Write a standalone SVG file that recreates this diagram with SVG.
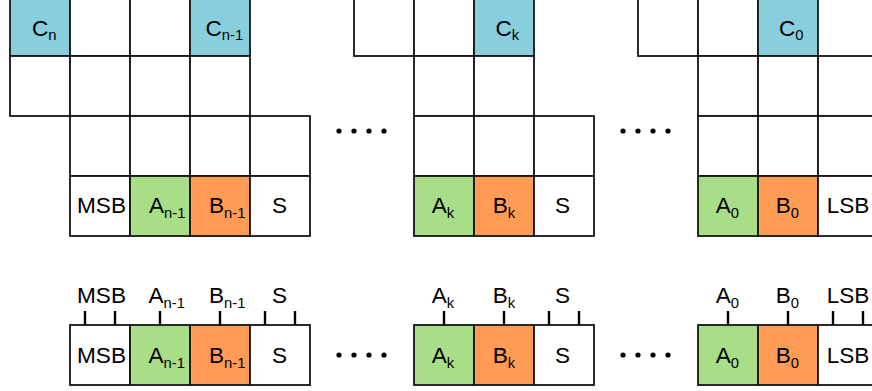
<svg xmlns="http://www.w3.org/2000/svg" width="872" height="391" viewBox="0 0 872 391">
<style>
  rect.c { fill: #ffffff; stroke: #151515; stroke-width: 1.8; }
  rect.blue { fill: #89CEDC; }
  rect.green { fill: #A9DE88; }
  rect.orange { fill: #FF9B53; }
  text { font-family: "Liberation Sans", Arial, sans-serif; font-size: 22.6px; fill: #000; }
  tspan.sub { font-size: 14.8px; }
  .tick { stroke: #000; stroke-width: 2.4; }
  .dot { fill: #000; }
</style>
<rect width="872" height="391" fill="#ffffff"/>

<!-- Left group -->
<g id="left-grid">
  <g id="cell-Cn"><rect class="c blue" x="10" y="-4" width="60" height="60"/><text x="32" y="36">C<tspan class="sub" dy="4">n</tspan></text></g>
  <rect class="c" x="70" y="-4" width="60" height="60"/>
  <rect class="c" x="130" y="-4" width="60" height="60"/>
  <g id="cell-Cn-1"><rect class="c blue" x="190" y="-4" width="60" height="60"/><text x="205.5" y="36">C<tspan class="sub" dy="4">n-1</tspan></text></g>
  <rect class="c" x="10" y="56" width="60" height="60"/>
  <rect class="c" x="70" y="56" width="60" height="60"/>
  <rect class="c" x="130" y="56" width="60" height="60"/>
  <rect class="c" x="190" y="56" width="60" height="60"/>
  <rect class="c" x="70" y="116" width="60" height="60"/>
  <rect class="c" x="130" y="116" width="60" height="60"/>
  <rect class="c" x="190" y="116" width="60" height="60"/>
  <rect class="c" x="250" y="116" width="60" height="60"/>
  <g id="cell-MSB"><rect class="c" x="70" y="176" width="60" height="60"/><text x="77" y="213">MSB</text></g>
  <g id="cell-An-1"><rect class="c green" x="130" y="176" width="60" height="60"/><text x="149" y="213">A<tspan class="sub" dy="4.5">n-1</tspan></text></g>
  <g id="cell-Bn-1"><rect class="c orange" x="190" y="176" width="60" height="60"/><text x="209" y="213">B<tspan class="sub" dy="4.5">n-1</tspan></text></g>
  <g id="cell-S1"><rect class="c" x="250" y="176" width="60" height="60"/><text x="272" y="213">S</text></g>
</g>

<!-- Middle group -->
<g id="mid-grid">
  <rect class="c" x="354" y="-4" width="60" height="60"/>
  <rect class="c" x="414" y="-4" width="60" height="60"/>
  <g id="cell-Ck"><rect class="c blue" x="474" y="-4" width="60" height="60"/><text x="495.5" y="36">C<tspan class="sub" dy="4">k</tspan></text></g>
  <rect class="c" x="414" y="56" width="60" height="60"/>
  <rect class="c" x="474" y="56" width="60" height="60"/>
  <rect class="c" x="414" y="116" width="60" height="60"/>
  <rect class="c" x="474" y="116" width="60" height="60"/>
  <rect class="c" x="534" y="116" width="60" height="60"/>
  <g id="cell-Ak"><rect class="c green" x="414" y="176" width="60" height="60"/><text x="431.7" y="213">A<tspan class="sub" dy="4.5">k</tspan></text></g>
  <g id="cell-Bk"><rect class="c orange" x="474" y="176" width="60" height="60"/><text x="492.7" y="213">B<tspan class="sub" dy="4.5">k</tspan></text></g>
  <g id="cell-S2"><rect class="c" x="534" y="176" width="60" height="60"/><text x="555" y="213">S</text></g>
</g>

<!-- Right group -->
<g id="right-grid">
  <rect class="c" x="638" y="-4" width="60" height="60"/>
  <rect class="c" x="698" y="-4" width="60" height="60"/>
  <g id="cell-C0"><rect class="c blue" x="758" y="-4" width="60" height="60"/><text x="779" y="36">C<tspan class="sub" dy="4">0</tspan></text></g>
  <rect class="c" x="698" y="56" width="60" height="60"/>
  <rect class="c" x="758" y="56" width="60" height="60"/>
  <rect class="c" x="818" y="56" width="60" height="60"/>
  <rect class="c" x="698" y="116" width="60" height="60"/>
  <rect class="c" x="758" y="116" width="60" height="60"/>
  <rect class="c" x="818" y="116" width="60" height="60"/>
  <g id="cell-A0"><rect class="c green" x="698" y="176" width="60" height="60"/><text x="715.7" y="213">A<tspan class="sub" dy="4.5">0</tspan></text></g>
  <g id="cell-B0"><rect class="c orange" x="758" y="176" width="60" height="60"/><text x="775.7" y="213">B<tspan class="sub" dy="4.5">0</tspan></text></g>
  <g id="cell-LSB"><rect class="c" x="818" y="176" width="60" height="60"/><text x="826.7" y="213">LSB</text></g>
</g>

<!-- Bottom register -->
<g id="bottom-register">
  <g id="reg-MSB"><rect class="c" x="70" y="325" width="60" height="60"/><text x="77" y="363">MSB</text><text x="77" y="303">MSB</text></g>
  <g id="reg-An-1"><rect class="c green" x="130" y="325" width="60" height="60"/><text x="148.5" y="363">A<tspan class="sub" dy="4.5">n-1</tspan></text><text x="148.5" y="303">A<tspan class="sub" dy="4.5">n-1</tspan></text></g>
  <g id="reg-Bn-1"><rect class="c orange" x="190" y="325" width="60" height="60"/><text x="209" y="363">B<tspan class="sub" dy="4.5">n-1</tspan></text><text x="209" y="303">B<tspan class="sub" dy="4.5">n-1</tspan></text></g>
  <g id="reg-S1"><rect class="c" x="250" y="325" width="60" height="60"/><text x="272" y="363">S</text><text x="272" y="303">S</text></g>
  <g id="reg-Ak"><rect class="c green" x="414" y="325" width="60" height="60"/><text x="431.7" y="363">A<tspan class="sub" dy="4.5">k</tspan></text><text x="431.7" y="303">A<tspan class="sub" dy="4.5">k</tspan></text></g>
  <g id="reg-Bk"><rect class="c orange" x="474" y="325" width="60" height="60"/><text x="492.7" y="363">B<tspan class="sub" dy="4.5">k</tspan></text><text x="492.7" y="303">B<tspan class="sub" dy="4.5">k</tspan></text></g>
  <g id="reg-S2"><rect class="c" x="534" y="325" width="60" height="60"/><text x="555" y="363">S</text><text x="555" y="303">S</text></g>
  <g id="reg-A0"><rect class="c green" x="698" y="325" width="60" height="60"/><text x="715.7" y="363">A<tspan class="sub" dy="4.5">0</tspan></text><text x="715.7" y="303">A<tspan class="sub" dy="4.5">0</tspan></text></g>
  <g id="reg-B0"><rect class="c orange" x="758" y="325" width="60" height="60"/><text x="775.7" y="363">B<tspan class="sub" dy="4.5">0</tspan></text><text x="775.7" y="303">B<tspan class="sub" dy="4.5">0</tspan></text></g>
  <g id="reg-LSB"><rect class="c" x="818" y="325" width="60" height="60"/><text x="826.7" y="363">LSB</text><text x="826.7" y="303">LSB</text></g>
</g>

<!-- Ticks -->
<g id="connectors">
  <line class="tick" x1="85" y1="311" x2="85" y2="325"/>
  <line class="tick" x1="115" y1="311" x2="115" y2="325"/>
  <line class="tick" x1="160" y1="311" x2="160" y2="325"/>
  <line class="tick" x1="220" y1="311" x2="220" y2="325"/>
  <line class="tick" x1="265" y1="311" x2="265" y2="325"/>
  <line class="tick" x1="295" y1="311" x2="295" y2="325"/>
  <line class="tick" x1="444" y1="311" x2="444" y2="325"/>
  <line class="tick" x1="504" y1="311" x2="504" y2="325"/>
  <line class="tick" x1="549" y1="311" x2="549" y2="325"/>
  <line class="tick" x1="579" y1="311" x2="579" y2="325"/>
  <line class="tick" x1="728" y1="311" x2="728" y2="325"/>
  <line class="tick" x1="788" y1="311" x2="788" y2="325"/>
  <line class="tick" x1="833" y1="311" x2="833" y2="325"/>
  <line class="tick" x1="863" y1="311" x2="863" y2="325"/>
</g>

<!-- Ellipsis dots -->
<g id="dots">
  <circle class="dot" cx="339" cy="131" r="2.6"/><circle class="dot" cx="354" cy="131" r="2.6"/><circle class="dot" cx="369" cy="131" r="2.6"/><circle class="dot" cx="384" cy="131" r="2.6"/>
  <circle class="dot" cx="623" cy="131" r="2.6"/><circle class="dot" cx="638" cy="131" r="2.6"/><circle class="dot" cx="653" cy="131" r="2.6"/><circle class="dot" cx="668" cy="131" r="2.6"/>
  <circle class="dot" cx="339" cy="355" r="2.6"/><circle class="dot" cx="354" cy="355" r="2.6"/><circle class="dot" cx="369" cy="355" r="2.6"/><circle class="dot" cx="384" cy="355" r="2.6"/>
  <circle class="dot" cx="623" cy="355" r="2.6"/><circle class="dot" cx="638" cy="355" r="2.6"/><circle class="dot" cx="653" cy="355" r="2.6"/><circle class="dot" cx="668" cy="355" r="2.6"/>
</g>
</svg>
